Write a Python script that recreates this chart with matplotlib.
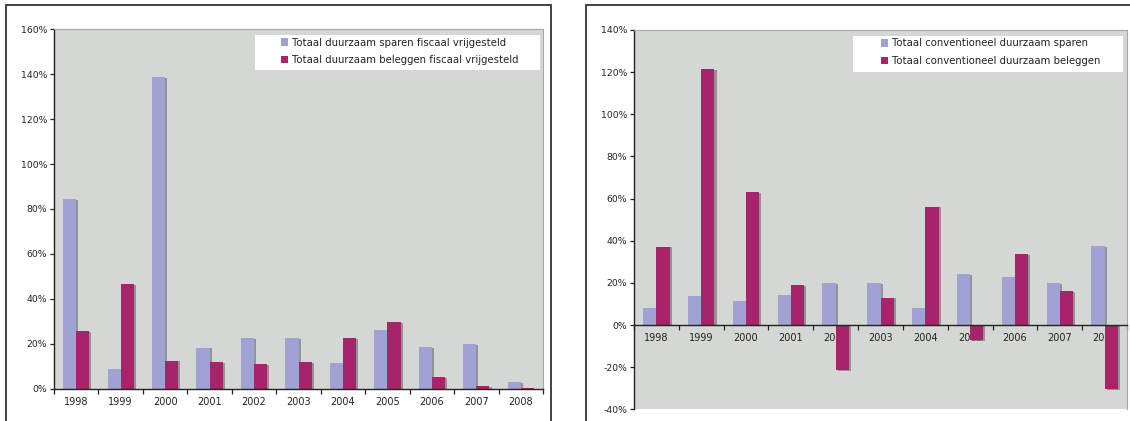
import matplotlib
matplotlib.use("Agg")
import matplotlib.pyplot as plt
import matplotlib.patheffects as pe
from matplotlib.patches import Rectangle
from matplotlib.ticker import FuncFormatter, FixedLocator
import numpy as np

years = ["1998", "1999", "2000", "2001", "2002", "2003", "2004", "2005", "2006", "2007", "2008"]

# Fiscally exempt sustainable products (% growth)
fiscaal_sparen = [84.4, 8.8, 138.7, 18.3, 22.7, 22.7, 11.4, 26.3, 18.7, 20.0, 3.1]
fiscaal_beleggen = [25.7, 46.6, 12.5, 11.9, 10.9, 11.9, 22.7, 29.7, 5.2, 1.0, 0.3]

# Conventional sustainable products (% growth)
conv_sparen = [7.9, 13.6, 11.5, 14.4, 20.0, 19.8, 7.9, 24.1, 22.9, 19.8, 37.5]
conv_beleggen = [37.2, 121.5, 62.9, 19.0, -21.4, 13.0, 56.2, -7.1, 33.6, 16.0, -30.5]

labels_left = ["Totaal duurzaam sparen fiscaal vrijgesteld",
               "Totaal duurzaam beleggen fiscaal vrijgesteld"]
labels_right = ["Totaal conventioneel duurzaam sparen",
                "Totaal conventioneel duurzaam beleggen"]

BLUE = "#9fa2d2"
RED = "#a8246a"
PLOT_BG = "#d5d7d4"

W, H = 1130, 421
fig = plt.figure(figsize=(W / 100, H / 100), dpi=100)
fig.patch.set_facecolor("white")


def px_axes(x0, y0, x1, y1):
    return fig.add_axes([x0 / W, 1 - y1 / H, (x1 - x0) / W, (y1 - y0) / H])


# outer frames around each chart panel
for fx0, fx1 in [(6, 551), (586, 1140)]:
    fig.patches.append(Rectangle((fx0 / W, -0.05), (fx1 - fx0) / W, 1 - 5 / H + 0.05,
                                 transform=fig.transFigure, fill=False,
                                 edgecolor="#333333", linewidth=1.3))

shadow = [pe.SimplePatchShadow(offset=(1.5, -0.6), shadow_rgbFace="#777777", alpha=0.7),
          pe.Normal()]


def draw(ax, s1, s2, labels, ylo, yhi, legend_box, handle_x):
    x = np.arange(len(years))
    w = 0.295
    ax.set_facecolor(PLOT_BG)
    b1 = ax.bar(x - w / 2, s1, w, color=BLUE, label=labels[0], zorder=2)
    b2 = ax.bar(x + w / 2, s2, w, color=RED, label=labels[1], zorder=2)
    for b in list(b1) + list(b2):
        b.set_path_effects(shadow)
    ax.set_xlim(-0.5, len(years) - 0.5)
    ax.set_ylim(ylo, yhi)
    ax.set_yticks(np.arange(ylo, yhi + 1, 20))
    ax.yaxis.set_major_formatter(FuncFormatter(lambda v, p: f"{int(v)}%"))
    ax.set_xticks(x)
    ax.set_xticklabels(years)
    ax.xaxis.set_minor_locator(FixedLocator(np.arange(-0.5, len(years), 1.0)))
    ax.tick_params(axis="x", which="major", length=0, labelsize=7, pad=6, colors="#222222")
    ax.tick_params(axis="x", which="minor", length=3.5, width=0.9, direction="out", color="#222222")
    ax.tick_params(axis="y", length=3, width=0.9, labelsize=6.7, pad=2, colors="#222222")
    ax.spines["bottom"].set_position(("data", 0))
    for side in ("left", "bottom"):
        ax.spines[side].set_color("#222222")
        ax.spines[side].set_linewidth(1.0)
    for side in ("top", "right"):
        ax.spines[side].set_color("#a8a8a8")
        ax.spines[side].set_linewidth(0.8)

    # white legend panel
    lx0, ly0, lx1, ly1 = legend_box
    ax.add_patch(Rectangle((lx0 / W, 1 - ly1 / H), (lx1 - lx0) / W, (ly1 - ly0) / H,
                           transform=fig.transFigure, facecolor="white",
                           edgecolor="none", zorder=4, clip_on=False))
    leg = ax.legend(loc="upper left",
                    bbox_to_anchor=(handle_x / W, 1 - (ly0 + 2.5) / H),
                    bbox_transform=fig.transFigure,
                    fontsize=7.3, frameon=False, handlelength=0.7,
                    handleheight=0.75, handletextpad=0.35, borderpad=0,
                    labelspacing=0.75, borderaxespad=0)
    leg.set_zorder(10)
    for h in leg.legend_handles:
        h.set_path_effects([])
    for t in leg.get_texts():
        t.set_color("#222222")


ax1 = px_axes(54, 29.3, 543, 388.7)
draw(ax1, fiscaal_sparen, fiscaal_beleggen, labels_left, 0, 160, (255, 35, 540, 70), 281)

ax2 = px_axes(634, 30, 1127, 409.3)
draw(ax2, conv_sparen, conv_beleggen, labels_right, -40, 140, (853, 36, 1123, 72), 881)

fig.savefig("out.png", dpi=100, facecolor="white")
